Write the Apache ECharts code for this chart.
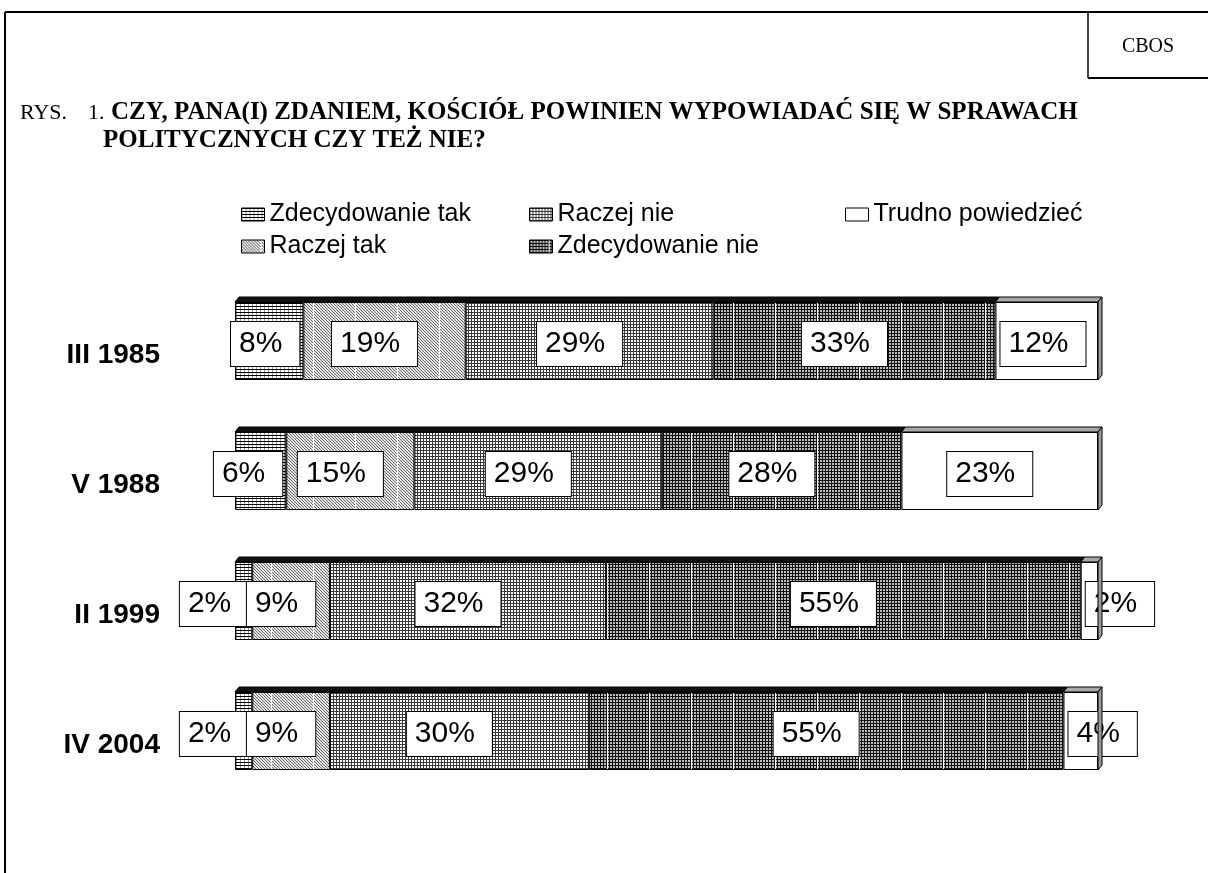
<!DOCTYPE html>
<html>
<head>
<meta charset="utf-8">
<script src="https://cdn.jsdelivr.net/npm/echarts/dist/echarts.min.js"></script>
<style>
html,body{margin:0;padding:0;background:#fff;}
#chart{width:1208px;height:873px;}
</style>
</head>
<body>
<div id="chart"></div>
<script>
// ---- data ----
const categories = ['III 1985', 'V 1988', 'II 1999', 'IV 2004'];
const seriesNames = ['Zdecydowanie tak', 'Raczej tak', 'Raczej nie', 'Zdecydowanie nie', 'Trudno powiedzieć'];
const zdecydowanieTak = [8, 6, 2, 2];
const raczejTak = [19, 15, 9, 9];
const raczejNie = [29, 29, 32, 30];
const zdecydowanieNie = [33, 28, 55, 55];
const trudnoPowiedziec = [12, 23, 2, 4];
const titleLead = 'RYS.';
const titleNumber = '1.';
const titleLine1 = 'CZY, PANA(I) ZDANIEM, KOŚCIÓŁ POWINIEN WYPOWIADAĆ SIĘ W SPRAWACH';
const titleLine2 = 'POLITYCZNYCH CZY TEŻ NIE?';
const sourceLabel = 'CBOS';

const allValues = [zdecydowanieTak, raczejTak, raczejNie, zdecydowanieNie, trudnoPowiedziec];

// ---- patterns ----
function makePattern(w, h, fn) {
  const c = document.createElement('canvas');
  c.width = w; c.height = h;
  const ctx = c.getContext('2d');
  for (let y = 0; y < h; y++) {
    for (let x = 0; x < w; x++) {
      ctx.fillStyle = fn(x, y);
      ctx.fillRect(x, y, 1, 1);
    }
  }
  return { image: c, repeat: 'repeat' };
}
const SEAM = 19;
const patTak = makePattern(4, 3, (x, y) => y === 0 ? '#000' : (x === 0 ? '#9a9a9a' : '#fff'));
const patRTak = makePattern(42, 3, (x, y) => x === SEAM ? '#fff' : (((x - y) % 3 + 3) % 3 === 0 ? '#666' : '#e6e6e6'));
const patRNie = makePattern(3, 3, (x, y) => (x === 0 || y === 0) ? '#3a3a3a' : '#fff');
const patNie = makePattern(42, 3, (x, y) => x === SEAM ? '#fff' : ((x % 3 === 0 || y === 0) ? '#111' : '#bdbdbd'));
const patterns = [patTak, patRTak, patRNie, patNie, '#fff'];

const rowSums = categories.map((_, i) => allValues.reduce((s, arr) => s + arr[i], 0));

const labelBase = {
  show: true,
  color: '#000',
  fontFamily: 'Liberation Sans, Arial, sans-serif',
  fontSize: 30,
  lineHeight: 32,
  backgroundColor: '#fff',
  borderColor: '#000',
  borderWidth: 1,
  padding: [6, 17, 6, 8],
  formatter: p => p.data.raw + '%'
};

const barSeries = seriesNames.map((name, si) => ({
  name: name,
  type: 'bar',
  stack: 'total',
  barWidth: '60%',
  itemStyle: { color: patterns[si], borderColor: '#000', borderWidth: 1 },
  label: labelBase,
  emphasis: { disabled: true },
  data: allValues[si].map((v, ci) => {
    const share = v / rowSums[ci] * 100;
    let lab;
    if (si === 0) lab = { position: 'insideRight', distance: 4, offset: [0, 3] };
    else if (si === seriesNames.length - 1) lab = share < 15 ? { position: 'insideLeft', distance: 5, offset: [0, 3] } : { position: 'inside', offset: [-10, 3] };
    else lab = { position: 'inside', offset: [-10, 3] };
    return { value: share, raw: v, label: lab };
  })
}));

// 3D top & side faces
const faceData = categories.map((c, ci) => [ci, 100 - trudnoPowiedziec[ci] / rowSums[ci] * 100]);
const faceSeries = {
  type: 'custom',
  name: 'faces',
  encode: { x: 1, y: 0 },
  z: 5,
  silent: true,
  data: faceData,
  renderItem: function (params, api) {
    const cat = api.value(0), lastStart = api.value(1);
    const p0 = api.coord([0, cat]);
    const p1 = api.coord([100, cat]);
    const pL = api.coord([lastStart, cat]);
    const band = api.size([0, 1])[1];
    const h = band * 0.6;
    const yT = p0[1] - h / 2, yB = p0[1] + h / 2;
    const dx = 4, dy = 5;
    return {
      type: 'group', children: [
        { type: 'polygon', shape: { points: [[p0[0], yT], [pL[0], yT], [pL[0] + dx, yT - dy], [p0[0] + dx, yT - dy]] }, style: { fill: '#111', stroke: '#000', lineWidth: 1 } },
        { type: 'polygon', shape: { points: [[pL[0], yT], [p1[0], yT], [p1[0] + dx, yT - dy], [pL[0] + dx, yT - dy]] }, style: { fill: '#a8a8a8', stroke: '#000', lineWidth: 1 } },
        { type: 'polygon', shape: { points: [[p1[0], yT], [p1[0] + dx, yT - dy], [p1[0] + dx, yB - dy], [p1[0], yB]] }, style: { fill: '#9a9a9a', stroke: '#000', lineWidth: 1 } }
      ]
    };
  }
};

const legendText = { fontFamily: 'Liberation Sans, Arial, sans-serif', fontSize: 25, color: '#000' };
const legendCommon = {
  orient: 'vertical', itemWidth: 23, itemHeight: 13, itemGap: 7, icon: 'rect',
  textStyle: legendText, selectedMode: false,
  itemStyle: { borderColor: '#000', borderWidth: 1 }
};

const serif = 'Liberation Serif, Times New Roman, serif';
const titleFont = 'bold 25px ' + serif;

const chart = echarts.init(document.getElementById('chart'), null, { renderer: 'canvas' });
chart.setOption({
  animation: false,
  backgroundColor: '#fff',
  legend: [
    Object.assign({ left: 236, top: 197, data: [seriesNames[0], seriesNames[1]] }, legendCommon),
    Object.assign({ left: 524, top: 197, data: [seriesNames[2], seriesNames[3]] }, legendCommon),
    Object.assign({ left: 840, top: 197, data: [seriesNames[4]] }, legendCommon)
  ],
  grid: { left: 235, right: 110, top: 276, height: 520, containLabel: false },
  xAxis: { type: 'value', min: 0, max: 100, show: false },
  yAxis: {
    type: 'category', data: categories, inverse: true,
    axisLine: { show: false }, axisTick: { show: false }, splitLine: { show: false },
    axisLabel: {
      color: '#000', fontFamily: 'Liberation Sans, Arial, sans-serif', fontSize: 28, fontWeight: 'bold',
      margin: 75, verticalAlign: 'top', lineHeight: 28
    }
  },
  graphic: [
    { type: 'line', shape: { x1: 5, y1: 12, x2: 1208, y2: 12 }, style: { stroke: '#000', lineWidth: 2 } },
    { type: 'line', shape: { x1: 5, y1: 12, x2: 5, y2: 873 }, style: { stroke: '#000', lineWidth: 2 } },
    { type: 'line', shape: { x1: 1088, y1: 12, x2: 1088, y2: 78 }, style: { stroke: '#000', lineWidth: 1.5 } },
    { type: 'line', shape: { x1: 1088, y1: 78, x2: 1208, y2: 78 }, style: { stroke: '#000', lineWidth: 2 } },
    { type: 'text', x: 1148, y: 47, style: { text: sourceLabel, font: '20px ' + serif, fill: '#000', textAlign: 'center', textVerticalAlign: 'middle' } },
    { type: 'text', x: 20, y: 113, style: { text: titleLead, font: '22px ' + serif, fill: '#000', textAlign: 'left', textVerticalAlign: 'middle' } },
    { type: 'text', x: 88, y: 113, style: { text: titleNumber, font: '22px ' + serif, fill: '#000', textAlign: 'left', textVerticalAlign: 'middle' } },
    { type: 'text', x: 111, y: 113, style: { text: titleLine1, font: titleFont, fill: '#000', textAlign: 'left', textVerticalAlign: 'middle' } },
    { type: 'text', x: 103, y: 141, style: { text: titleLine2, font: titleFont, fill: '#000', textAlign: 'left', textVerticalAlign: 'middle' } }
  ],
  series: barSeries.concat([faceSeries])
});
</script>
</body>
</html>
